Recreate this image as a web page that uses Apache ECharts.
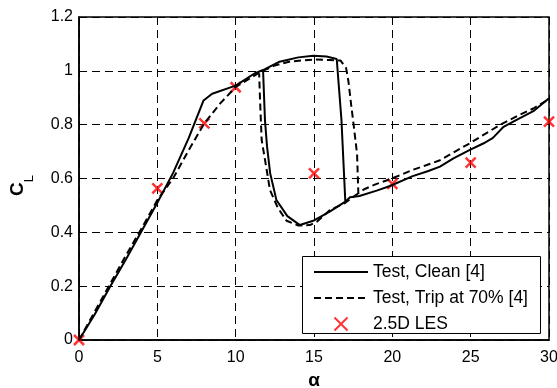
<!DOCTYPE html>
<html>
<head>
<meta charset="utf-8">
<script src="https://cdn.jsdelivr.net/npm/echarts@6/dist/echarts.min.js"></script>
<style>
  html, body { margin: 0; padding: 0; background: #fff; }
  #chart { width: 557px; height: 388px; }
</style>
</head>
<body>
<div id="chart"></div>
<script>
// 数据：升力系数 CL 随攻角 alpha 变化
// 实线 Test, Clean —— 上升支 + 失速 + 失速后
var cleanAlpha = [0, 1, 2, 3, 4, 5, 6, 7, 7.95, 8.5, 10, 11.2, 11.75, 12.8, 14, 14.95, 15.8, 16.45, 16.75, 17.0, 17.3, 17.9, 19, 19.85, 21.3, 22.3, 23.04, 23.9, 24.95, 25.8, 26.4, 26.65, 27.1, 27.9, 29, 30];
var cleanCl    = [0, 0.095, 0.2, 0.3, 0.405, 0.51, 0.62, 0.75, 0.89, 0.915, 0.945, 0.99, 1.003, 1.034, 1.05, 1.056, 1.053, 1.044, 0.82, 0.514, 0.53, 0.535, 0.555, 0.572, 0.609, 0.628, 0.644, 0.675, 0.706, 0.73, 0.75, 0.765, 0.792, 0.817, 0.85, 0.898];
// 实线 回滞下支
var cleanLowAlpha = [17.0, 16, 14.95, 14.1, 13.3, 12.6, 12.2, 12.0, 11.87, 11.75];
var cleanLowCl    = [0.514, 0.477, 0.443, 0.427, 0.46, 0.52, 0.62, 0.72, 0.817, 1.0];

// 虚线 Test, Trip at 70%
var tripAlpha = [0, 1, 2, 3, 4, 5, 6, 7, 8, 9, 10, 11, 11.55, 12.5, 13.5, 15, 16, 16.7, 17.05, 17.2, 17.4, 17.55, 17.75, 17.83, 18.2, 19, 19.85, 21.3, 22.2, 23.04, 24, 24.95, 25.9, 26.87, 28.1, 29, 30];
var tripCl    = [0, 0.105, 0.21, 0.315, 0.415, 0.52, 0.6, 0.705, 0.805, 0.878, 0.94, 0.975, 0.995, 1.02, 1.035, 1.042, 1.04, 1.038, 1.01, 0.96, 0.86, 0.79, 0.69, 0.545, 0.56, 0.58, 0.597, 0.632, 0.65, 0.668, 0.7, 0.731, 0.765, 0.799, 0.836, 0.86, 0.895];
var tripLowAlpha = [17.83, 17.0, 16, 15.2, 14.74, 14.0, 13.25, 12.7, 12.19, 11.9, 11.66, 11.55, 11.5];
var tripLowCl    = [0.545, 0.51, 0.482, 0.44, 0.427, 0.425, 0.443, 0.49, 0.557, 0.66, 0.743, 0.9, 0.99];

// 2.5D LES 计算点
var lesAlpha = [0, 5, 8, 10, 15, 20, 25, 30];
var lesCl    = [0, 0.563, 0.805, 0.939, 0.619, 0.58, 0.659, 0.811];

var seriesNames = ['Test, Clean [4]', 'Test, Trip at 70% [4]', '2.5D LES'];

function zip(xs, ys) {
  return xs.map(function (x, i) { return [x, ys[i]]; });
}
// 两段之间用 '-' 断开
function joinSegments(a, b) {
  return a.concat([['-', '-']], b);
}

var font = "'Liberation Sans', Arial, Helvetica, sans-serif";
var noDot = { color: 'rgba(0,0,0,0)', borderColor: 'rgba(0,0,0,0)', borderWidth: 0 };
var myChart = echarts.init(document.getElementById('chart'), null, { renderer: 'canvas' });

var option = {
  backgroundColor: '#fff',
  animation: false,
  grid: {
    left: 79, right: 8, top: 17, bottom: 48,
    outerBoundsMode: 'none', containLabel: false,
    show: true, borderColor: '#000', borderWidth: 1.5, backgroundColor: 'transparent'
  },
  // 图例外框
  graphic: [{
    type: 'rect', left: 302, top: 256, z: 3,
    shape: { width: 238, height: 77 },
    style: { fill: '#fff', stroke: '#000', lineWidth: 1 }
  }],
  legend: {
    orient: 'vertical',
    left: 302, top: 256,
    padding: [7, 10, 6, 11],
    itemWidth: 54, itemHeight: 13, itemGap: 8,
    z: 5,
    textStyle: { fontFamily: font, fontSize: 17.5, color: '#000' },
    data: [
      { name: seriesNames[0], itemStyle: noDot },
      { name: seriesNames[1], itemStyle: noDot },
      { name: seriesNames[2] }
    ]
  },
  xAxis: {
    type: 'value', min: 0, max: 30, interval: 5,
    name: 'α', nameLocation: 'middle', nameGap: 31,
    nameTextStyle: { fontFamily: font, fontSize: 19, fontWeight: 'bold', color: '#000' },
    axisLine: { lineStyle: { color: '#000', width: 1.5 } },
    axisTick: { show: false },
    axisLabel: { fontFamily: font, fontSize: 16, color: '#000', margin: 10 },
    splitLine: { lineStyle: { color: '#000', width: 1, type: [8, 5] } }
  },
  yAxis: {
    type: 'value', min: 0, max: 1.2, interval: 0.2,
    name: '{c|C}{l|L}', nameLocation: 'middle', nameGap: 52, nameRotate: 90,
    nameTextStyle: {
      rich: {
        c: { fontFamily: font, fontSize: 19, fontWeight: 'bold', color: '#000', lineHeight: 19 },
        l: { fontFamily: font, fontSize: 13, color: '#000', lineHeight: 13, padding: [24, 14, 0, 0] }
      }
    },
    axisLine: { lineStyle: { color: '#000', width: 1.5 } },
    axisTick: { show: false },
    axisLabel: { fontFamily: font, fontSize: 16, color: '#000', margin: 6 },
    splitLine: { lineStyle: { color: '#000', width: 1, type: [8, 5] } }
  },
  series: [
    {
      name: seriesNames[0],
      type: 'line',
      data: joinSegments(zip(cleanAlpha, cleanCl), zip(cleanLowAlpha, cleanLowCl)),
      showSymbol: false, symbol: 'none',
      connectNulls: false,
      lineStyle: { color: '#000', width: 2 },
      itemStyle: { color: '#000' }
    },
    {
      name: seriesNames[1],
      type: 'line',
      data: joinSegments(zip(tripAlpha, tripCl), zip(tripLowAlpha, tripLowCl)),
      showSymbol: false, symbol: 'none',
      connectNulls: false,
      lineStyle: { color: '#000', width: 2, type: [7, 4] },
      itemStyle: { color: '#000' }
    },
    {
      name: seriesNames[2],
      type: 'scatter',
      data: zip(lesAlpha, lesCl),
      symbol: 'path://M0,0L10,10M10,0L0,10',
      symbolSize: 10,
      symbolKeepAspect: true,
      clip: false,
      itemStyle: { color: '#f00', borderColor: '#f00', borderWidth: 2.5 },
      z: 2.5
    }
  ]
};

myChart.setOption(option);
</script>
</body>
</html>
